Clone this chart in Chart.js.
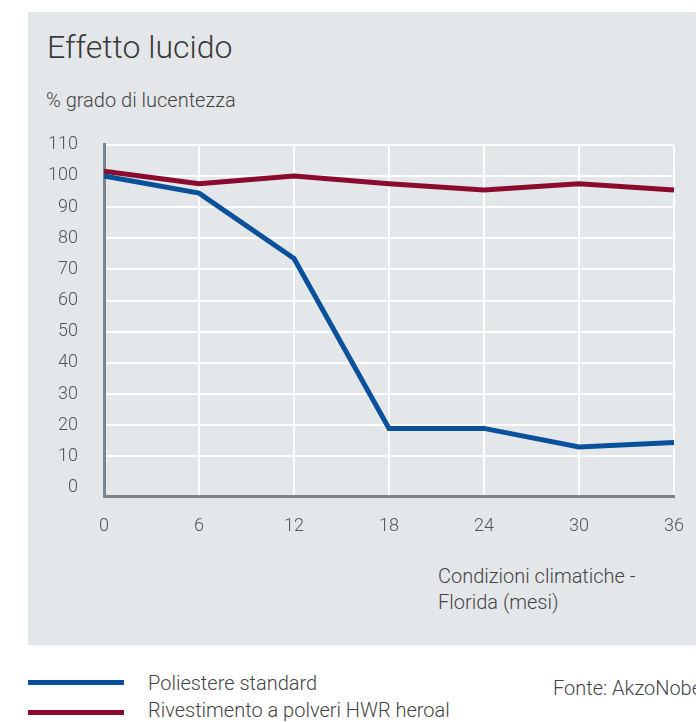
<!DOCTYPE html>
<html>
<head>
<meta charset="utf-8">
<script src="https://cdn.jsdelivr.net/npm/chart.js@4/dist/chart.umd.min.js"></script>
<style>
  html, body { margin: 0; padding: 0; background: #fff; overflow: hidden; }
  body { width: 696px; height: 722px; position: relative; font-family: Roboto, sans-serif; overflow: hidden; }
  #panel { position: absolute; left: 28px; top: 12px; width: 668px; height: 633px; background: #e4e7ea; }
  #title { position: absolute; left: 47px; top: 28px; font-size: 32px; font-weight: 300; color: #3a3a3a; white-space: nowrap; line-height: 38px; }
  #unit { position: absolute; left: 46px; top: 88px; font-size: 20px; font-weight: 300; color: #444; white-space: nowrap; line-height: 24px; }
  #wrap { position: absolute; left: 28px; top: 108px; width: 676px; height: 455px; }
  #xtitle { position: absolute; left: 438px; top: 563px; font-size: 20px; font-weight: 300; line-height: 26px; color: #444; white-space: nowrap; }
  .leg { position: absolute; left: 28px; width: 96px; height: 5px; }
  .legtxt { position: absolute; left: 148px; font-size: 20px; font-weight: 300; color: #444; white-space: nowrap; line-height: 24px; }
  #source { position: absolute; left: 553px; top: 676px; font-size: 20px; font-weight: 300; color: #444; white-space: nowrap; line-height: 24px; }
</style>
</head>
<body>
<div id="panel"></div>
<div id="title">Effetto lucido</div>
<div id="unit">% grado di lucentezza</div>
<div id="wrap"><canvas id="glossChart"></canvas></div>
<div id="xtitle">Condizioni climatiche -<br>Florida (mesi)</div>
<div class="leg" style="top:680px;background:#0a519b"></div>
<div class="legtxt" style="top:671px">Poliestere standard</div>
<div class="leg" style="top:710px;background:#8b0b2f"></div>
<div class="legtxt" style="top:698px">Rivestimento a polveri HWR heroal</div>
<div id="source">Fonte: AkzoNobel</div>

<script>
// mesi di esposizione
const months = ['0', '6', '12', '18', '24', '30', '36'];
// % grado di lucentezza
const poliestere = [100, 94.5, 73.5, 19, 19, 13, 14.5];
const heroal = [101.5, 97.5, 100, 97.5, 95.5, 97.5, 95.5];
const yTicks = [0, 10, 20, 30, 40, 50, 60, 70, 80, 90, 100, 110];

const axisGrey = '#7b858c';
const tickFont = { family: 'Roboto', size: 18, weight: '300' };

const ctx = document.getElementById('glossChart').getContext('2d');
new Chart(ctx, {
    type: 'line',
    data: {
        labels: months,
        datasets: [{
            label: 'Poliestere standard',
            data: poliestere,
            borderColor: '#0a519b',
            borderWidth: 5,
            pointRadius: 0,
            tension: 0,
            fill: false
        }, {
            label: 'Rivestimento a polveri HWR heroal',
            data: heroal,
            borderColor: '#8b0b2f',
            borderWidth: 5,
            pointRadius: 0,
            tension: 0,
            fill: false
        }]
    },
    options: {
        responsive: true,
        maintainAspectRatio: false,
        animation: false,
        layout: { padding: 0 },
        plugins: {
            legend: { display: false },
            tooltip: { enabled: false }
        },
        scales: {
            x: {
                offset: false,
                afterFit: scale => { scale.height = 67; },
                grid: {
                    drawTicks: false,
                    lineWidth: 2,
                    color: c => c.index === 0 ? 'rgba(0,0,0,0)' : '#ffffff'
                },
                border: { display: true, color: axisGrey, width: 3 },
                ticks: { padding: 20, color: '#555', font: tickFont, maxRotation: 0 }
            },
            y: {
                min: -2.7,
                max: 110,
                afterBuildTicks: scale => { scale.ticks = yTicks.map(v => ({ value: v })); },
                afterFit: scale => { scale.width = 76; },
                grid: {
                    drawTicks: false,
                    lineWidth: 2,
                    color: c => c.tick && c.tick.value === 0 ? 'rgba(0,0,0,0)' : '#ffffff'
                },
                border: { display: true, color: axisGrey, width: 3 },
                ticks: { padding: 26, color: '#555', font: tickFont }
            }
        }
    }
});
</script>
</body>
</html>
